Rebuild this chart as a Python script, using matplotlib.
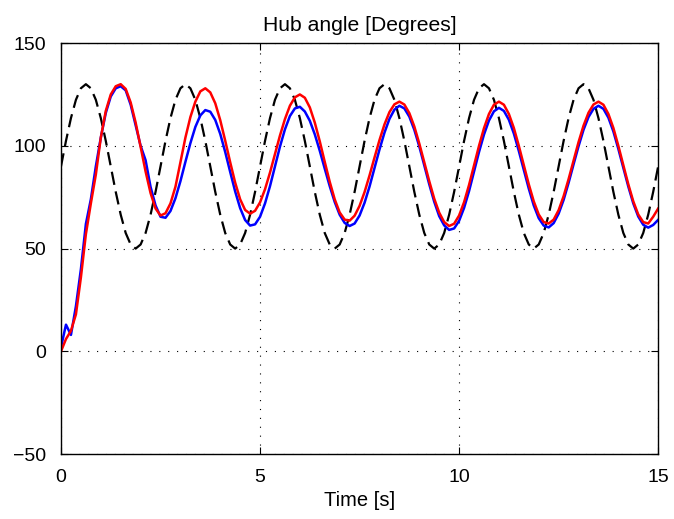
import matplotlib
matplotlib.use("Agg")
import matplotlib.pyplot as plt
import numpy as np

plt.rcParams['font.family'] = ['Liberation Sans', 'DejaVu Sans']

title = "Hub angle [Degrees]"
xlabel = "Time [s]"
xticks = [0, 5, 10, 15]
yticks = [-50, 0, 50, 100, 150]

# time base (s), step 0.125
time = np.arange(121) * 0.125

reference = [
    90, 102.4, 113.5, 122.4, 128, 130, 128, 122.4, 113.5, 102.4, 90, 77.6, 66.5, 57.6, 52, 50, 52, 57.6, 66.5, 77.6,
    90, 102.4, 113.5, 122.4, 128, 130, 128, 122.4, 113.5, 102.4, 90, 77.6, 66.5, 57.6, 52, 50, 52, 57.6, 66.5, 77.6,
    90, 102.4, 113.5, 122.4, 128, 130, 128, 122.4, 113.5, 102.4, 90, 77.6, 66.5, 57.6, 52, 50, 52, 57.6, 66.5, 77.6,
    90, 102.4, 113.5, 122.4, 128, 130, 128, 122.4, 113.5, 102.4, 90, 77.6, 66.5, 57.6, 52, 50, 52, 57.6, 66.5, 77.6,
    90, 102.4, 113.5, 122.4, 128, 130, 128, 122.4, 113.5, 102.4, 90, 77.6, 66.5, 57.6, 52, 50, 52, 57.6, 66.5, 77.6,
    90, 102.4, 113.5, 122.4, 128, 130, 128, 122.4, 113.5, 102.4, 90, 77.6, 66.5, 57.6, 52, 50, 52, 57.6, 66.5, 77.6,
    90,
]

measured_blue = [
    2, 13, 8, 22, 40, 62, 74, 90, 104, 116, 124, 128, 129,
    127, 120, 110, 100, 93, 80, 71, 65.5, 65,
    68.3, 74.5, 82.8, 92.2, 101.3, 109.2, 114.8, 117.4,
    116.6, 112.6, 105.8, 97, 87.3, 77.8, 69.7, 63.9, 61.2,
    61.8, 65.5, 72, 80.4, 90, 99.6, 108, 114.5, 118.2, 119,
    116.7, 112.2, 105.6, 97.6, 88.9, 80.4, 72.7, 66.5, 62.5, 61,
    62.2, 66.1, 72.3, 80.2, 89.2, 98.2, 106.4, 113.1, 117.6, 119.5,
    118.2, 114.2, 107.8, 99.7, 90.5, 81.3, 72.8, 65.8, 61.3, 59.1,
    59.8, 63.5, 69.8, 78, 87.5, 97, 105.5, 112.3, 116.8, 118.5,
    117, 112.7, 106, 97.5, 88.3, 79.2, 71, 64.8, 61.2, 60.3,
    62.4, 67, 73.7, 82, 91, 99.8, 107.8, 114, 118, 119.5,
    118, 113.7, 107, 98.5, 89.3, 80.2, 72, 65.6, 61.6, 60.2,
    61.5, 64,
]

measured_red = [
    0, 6, 10, 18, 36, 57, 72, 86, 104, 117, 125, 129, 130,
    127.7, 121.1, 111.3, 99.5, 87.5, 77, 69.5, 66.1, 67.2,
    72, 80.1, 92, 104, 114, 121.5, 126.5, 128,
    126, 120.7, 112.5, 102.5, 92, 82.1, 74, 68.8, 67,
    68.4, 72.5, 78.9, 87, 96, 105, 113, 119.5, 123.6, 125,
    123.4, 118.7, 111.3, 102.2, 92.2, 82.5, 74, 67.6, 64.1, 63.6,
    66, 70.8, 77.5, 85.6, 94.3, 102.8, 110.4, 116.4, 120.2, 121.5,
    120.1, 115.9, 109.4, 101.1, 92, 82.8, 74.3, 67.5, 62.9, 61,
    62.1, 66.1, 72.6, 81, 90.5, 100, 108.6, 115.5, 120, 121.5,
    120, 115.5, 108.7, 100, 90.6, 81.3, 73, 66.6, 62.9, 62.2,
    64.1, 68.7, 75.5, 83.8, 92.8, 101.8, 109.8, 116.1, 120.1, 121.5,
    120, 115.5, 108.7, 100, 90.6, 81.3, 73, 66.6, 62.9, 62.2,
    65.5, 69.5,
]

fig = plt.figure(figsize=(6.74, 5.19), dpi=100)
ax = fig.add_axes([0.0905, 0.125, 0.886, 0.792])

ax.plot(time, reference, color='black', lw=1.6, linestyle=(0, (6, 3)))
ax.plot(time, measured_blue, color='#0000ff', lw=1.8)
ax.plot(time, measured_red, color='#ff0000', lw=1.8)

ax.set_xlim(0, 15)
ax.set_ylim(-50, 150)
ax.set_xticks(xticks)
ax.set_yticks(yticks)
ax.set_yticklabels(['\u221250', '0', '50', '100', '150'])
ax.grid(True, color='black', linestyle=(0, (1, 7)), lw=0.8)
ax.tick_params(direction='in', top=True, right=True, labelsize=14, length=5, pad=11)
for s in ax.spines.values():
    s.set_linewidth(1.0)
ax.set_title(title, fontsize=15.2, pad=9)
ax.set_xlabel(xlabel, fontsize=14.5, labelpad=3)

fig.savefig('out.png', dpi=100)
